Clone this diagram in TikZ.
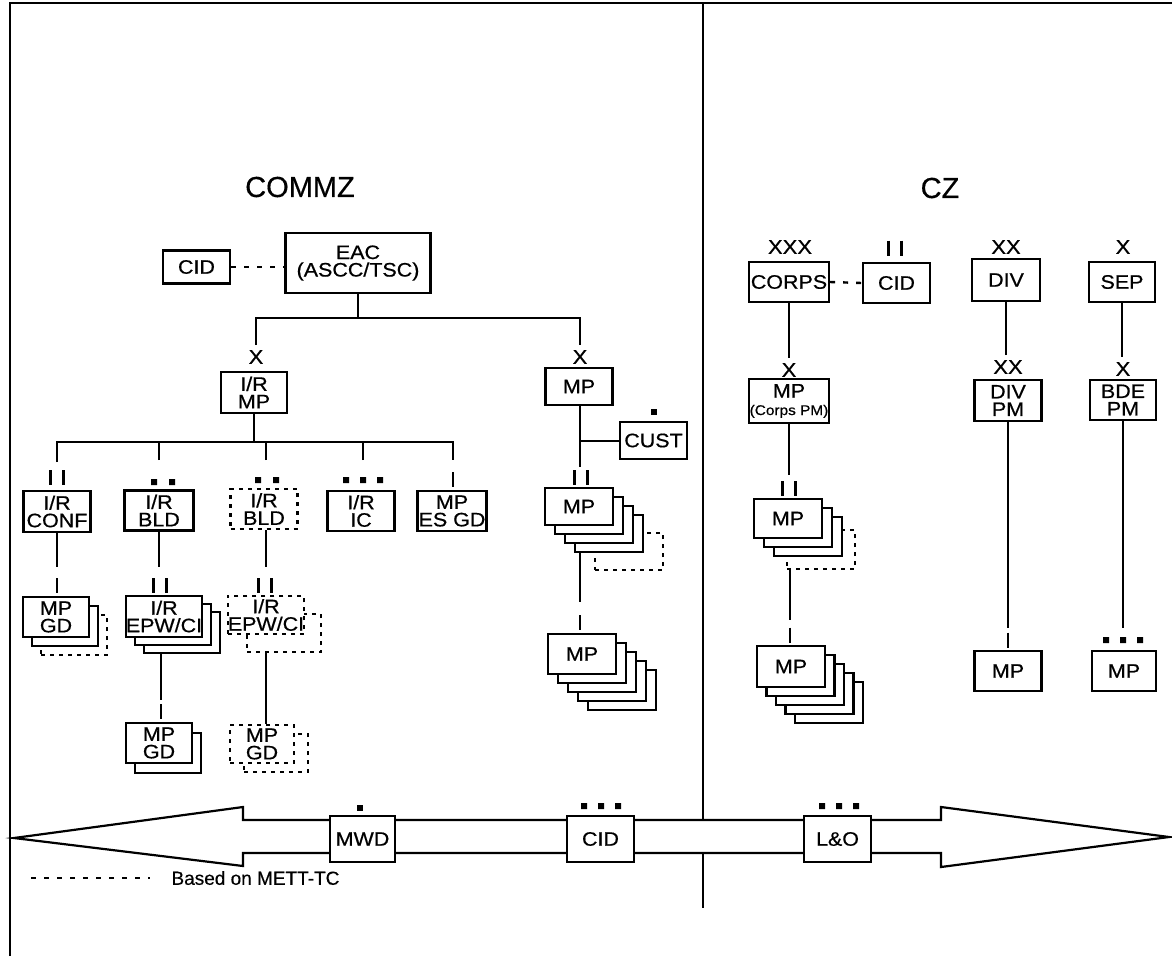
\documentclass[tikz,border=0pt]{standalone}
\usepackage{fontspec}
\setmainfont{Liberation Sans}
\newfontfamily\bxf[FakeStretch=1.1,FakeBold=0.6]{Liberation Sans}
\newfontfamily\hdf[FakeBold=0.4]{Liberation Sans}
\usetikzlibrary{backgrounds}
\tikzset{
  ubox/.style={draw, fill=white, line width=2.2pt, inner sep=0pt, align=center,
               font=\bxf\fontsize{19.5}{17.5}\selectfont},
  dbox/.style={ubox, dash pattern=on 4pt off 5pt},
  conn/.style={line width=2pt},
  dotl/.style={line width=2.4pt, dash pattern=on 5pt off 8pt},
  ech/.style={inner sep=1pt, outer sep=4pt, font=\bxf\fontsize{20}{20}\selectfont},
  hdr/.style={font=\hdf\fontsize{29}{30}\selectfont},
  dotone/.pic={\fill (-3,-3) rectangle (3,3);},
  dottwo/.pic={\fill (-12,-3) rectangle (-6,3) (6,-3) rectangle (12,3);},
  dotthree/.pic={\fill (-20,-3) rectangle (-14,3) (-3,-3) rectangle (3,3) (14,-3) rectangle (20,3);},
  barone/.pic={\draw[line width=2.2pt] (0,-7.5) -- (0,7.5);},
  bartwo/.pic={\draw[line width=2.2pt] (-6.5,-7.5) -- (-6.5,7.5) (6.5,-7.5) -- (6.5,7.5);},
}
% #1 name #2 cx #3 cy #4 w #5 h #6 number of back boxes #7 dx #8 dy #9 text
\newcommand\mkstack[9]{%
  \foreach \k in {#6,...,1}{\node[ubox, minimum width=#4, minimum height=#5] at ({#2+\k*#7},{#3+\k*#8}) {};}
  \node[ubox, minimum width=#4, minimum height=#5] (#1) at (#2,#3) {#9};
}
\begin{document}
\begin{tikzpicture}[x=1pt,y=-1pt]
\useasboundingbox (0,0) rectangle (1172,956);

% frame
\draw[line width=2pt] (10,956) -- (10,3) -- (1172,3);

% headers
\node[hdr] (commz) at (300,187) {COMMZ};
\node[hdr] (cz) at (940,188) {CZ};

% ---------- COMMZ ----------
\node[ubox, minimum width=67pt, minimum height=33pt] (cidL) at (196.5,267) {CID};
\node[ubox, minimum width=145pt, minimum height=60pt] (eac) at (358,263) {EAC\\(ASCC/TSC)};

\node[ech] (irmpX) at (256,357) {X};
\node[ubox, minimum width=66pt, minimum height=41pt] (irmp) at (254,392.5) {I/R\\MP};

\node[ubox, minimum width=67pt, minimum height=41pt] (conf) at (57,511.5) {I/R\\CONF};
\node[ubox, minimum width=69pt, minimum height=40pt] (bld) at (159,510.5) {I/R\\BLD};
\node[dbox, minimum width=67pt, minimum height=40pt] (bldD) at (264,509) {I/R\\BLD};
\node[ubox, minimum width=67pt, minimum height=40pt] (ic) at (361,511) {I/R\\IC};
\node[ubox, minimum width=69pt, minimum height=40pt] (esgd) at (452,511) {MP\\ES GD};

\pic at (57,477.5) {bartwo};
\pic at (163,482) {dottwo};
\pic at (267,480) {dottwo};
\pic at (363,480) {dotthree};
\pic at (453,479.5) {barone};

% MP GD stack under CONF
\node[dbox, minimum width=66pt, minimum height=40pt] (mpgd1d) at (74,635) {};
\mkstack{mpgd1}{56}{617}{66pt}{40pt}{1}{9}{9}{MP\\GD}
\pic at (57,585.5) {barone};

% EPW/CI stack
\mkstack{epw}{164}{616.5}{76pt}{41pt}{2}{9}{8}{I/R\\EPW/CI}
\pic at (160,585.5) {bartwo};

% dashed EPW/CI
\node[dbox, minimum width=74pt, minimum height=38pt] (epwDb) at (284,633) {};
\node[dbox, minimum width=74pt, minimum height=38pt] (epwD) at (266,615) {I/R\\EPW/CI};
\pic at (265,585.5) {bartwo};

% MP GD under EPW/CI
\mkstack{mpgd2}{159}{743}{66pt}{40pt}{1}{9}{10}{MP\\GD}
\pic at (161,711.5) {barone};

% dashed MP GD
\node[dbox, minimum width=64pt, minimum height=38pt] (mpgd3b) at (276,753) {};
\node[dbox, minimum width=64pt, minimum height=38pt] (mpgd3) at (262,744) {MP\\GD};

% MP column
\node[ech] (mpRX) at (580,357) {X};
\node[ubox, minimum width=67pt, minimum height=37pt] (mpR) at (579,386.5) {MP};
\node[ubox, minimum width=67pt, minimum height=37pt] (cust) at (653.5,440.5) {CUST};
\pic at (654,412) {dotone};

\node[dbox, minimum width=68pt, minimum height=37pt] (mpS1d) at (629,551.5) {};
\mkstack{mpS1}{579}{506.5}{68pt}{37pt}{3}{10}{9}{MP}
\pic at (581,477.5) {bartwo};

\mkstack{mpS2}{582}{654}{68pt}{40pt}{4}{10}{9}{MP}
\pic at (580,622.5) {barone};

% ---------- CZ ----------
\node[ech] (corpsXXX) at (790,247) {XXX};
\node[ubox, minimum width=80pt, minimum height=40pt] (corps) at (789,282) {CORPS};
\node[ubox, minimum width=67pt, minimum height=40pt] (cidR) at (896.5,283) {CID};
\pic at (895,248) {bartwo};

\node[ech] (corpsX) at (789,370) {X};
\node[ubox, minimum width=80pt, minimum height=44pt] (mpc) at (789,401) {MP\\{\fontsize{14}{14}\selectfont (Corps PM)}};

\node[dbox, minimum width=68pt, minimum height=39pt] (mpC1d) at (821,549.5) {};
\mkstack{mpC1}{788}{518.5}{68pt}{39pt}{2}{10}{9}{MP}
\pic at (789,488.5) {bartwo};

\mkstack{mpC2}{791}{666.5}{68pt}{41pt}{4}{9.5}{9}{MP}
\pic at (790,635) {barone};

\node[ech] (divXX) at (1006,247) {XX};
\node[ubox, minimum width=68pt, minimum height=42pt] (div) at (1006,280) {DIV};
\node[ech] (divX) at (1008,367) {XX};
\node[ubox, minimum width=67pt, minimum height=41pt] (divpm) at (1008,400.5) {DIV\\PM};
\node[ubox, minimum width=67pt, minimum height=40pt] (mpdiv) at (1008,671) {MP};
\pic at (1008,640) {barone};

\node[ech] (sepXt) at (1123,247) {X};
\node[ubox, minimum width=66pt, minimum height=40pt] (sep) at (1122,282) {SEP};
\node[ech] (sepX) at (1123,369) {X};
\node[ubox, minimum width=66pt, minimum height=40pt] (bdepm) at (1123,400) {BDE\\PM};
\node[ubox, minimum width=64pt, minimum height=40pt] (mpsep) at (1124,671) {MP};
\pic at (1123,640) {dotthree};

% ---------- arrow ----------
\draw[line width=2.2pt, fill=white, line join=miter]
  (14,838) -- (243,807) -- (243,820) -- (941,820) -- (941,807) -- (1169,837)
  -- (941,867) -- (941,853) -- (243,853) -- (243,866) -- cycle;
\node[ubox, minimum width=65pt, minimum height=46pt] (mwd) at (362.5,839) {MWD};
\node[ubox, minimum width=67pt, minimum height=46pt] (cidA) at (600.5,839) {CID};
\node[ubox, minimum width=67pt, minimum height=46pt] (lo) at (837.5,839) {L\&O};
\pic at (360,808) {dotone};
\pic at (601,806) {dotthree};
\pic at (839,806) {dotthree};

% legend
\coordinate (lg1) at (31,878);
\coordinate (lg2) at (150,878);
\draw[line width=1.8pt, dash pattern=on 5pt off 8pt] (lg1) -- (lg2);
\node[anchor=west, font=\hdf\fontsize{19}{19}\selectfont] (lgt) at (168,878) {Based on METT-TC};

% ---------- connectors ----------
\coordinate (b1) at (0,318);
\coordinate (b2) at (0,442);
\coordinate (dA) at (57,462);
\coordinate (dB) at (159,460);
\coordinate (dC) at (266,460);
\coordinate (dD) at (363,460);
\coordinate (dE) at (453,460);
\coordinate (cA2) at (57,567);
\coordinate (cB2) at (159,567);
\coordinate (cC2) at (266,567);
\coordinate (epwB) at (161,700);
\coordinate (cR1) at (580,467);
\coordinate (cR2) at (580,602);
\coordinate (cK1) at (789,475);
\coordinate (cK2) at (790,620);
\coordinate (cD1) at (1008,628);
\coordinate (cS1) at (1123,628);
\coordinate (dvT) at (703,3);
\coordinate (dvB) at (703,908);

\begin{pgfonlayer}{background}
  \draw[line width=1.8pt] (dvT) -- (dvB);
  \draw[dotl] (cidL.east) -- (cidL.east -| eac.west);
  \draw[conn] (eac.south) -- (eac.south |- b1);
  \draw[conn] (irmpX.north) -- (irmpX.north |- b1) -- (mpRX.north |- b1) -- (mpRX.north);
  \draw[conn] (irmp.south) -- (irmp.south |- b2);
  \draw[conn] (dA) -- (dA |- b2) -- (dE |- b2) -- (dE);
  \draw[conn] (dB) -- (dB |- b2);
  \draw[conn] (dC) -- (dC |- b2);
  \draw[conn] (dD) -- (dD |- b2);
  \draw[conn] (conf.south) -- (cA2);
  \draw[conn] (cB2 |- bld.south) -- (cB2);
  \draw[conn] (cC2 |- bldD.south) -- (cC2);
  \draw[conn] (epwB |- epw.south) -- (epwB);
  \draw[conn] (epwD.south) -- (epwD.south |- mpgd3.north);
  \draw[conn] (cR1 |- mpR.south) -- (cR1);
  \draw[conn] (cR1 |- cust.west) -- (cust.west);
  \draw[conn] (cR2 |- mpS1.south) -- (cR2);
  \draw[dotl] (corps.east) -- (cidR.west);
  \draw[conn] (corps.south) -- (corpsX.north);
  \draw[conn] (mpc.south) -- (cK1);
  \draw[conn] (cK2 |- mpC1.south) -- (cK2);
  \draw[conn] (divX.north -| div.south) -- (div.south);
  \draw[conn] (divpm.south) -- (cD1);
  \draw[conn] (sep.south) -- (sep.south |- sepX.north);
  \draw[conn] (bdepm.south) -- (cS1);
\end{pgfonlayer}
\end{tikzpicture}
\end{document}
